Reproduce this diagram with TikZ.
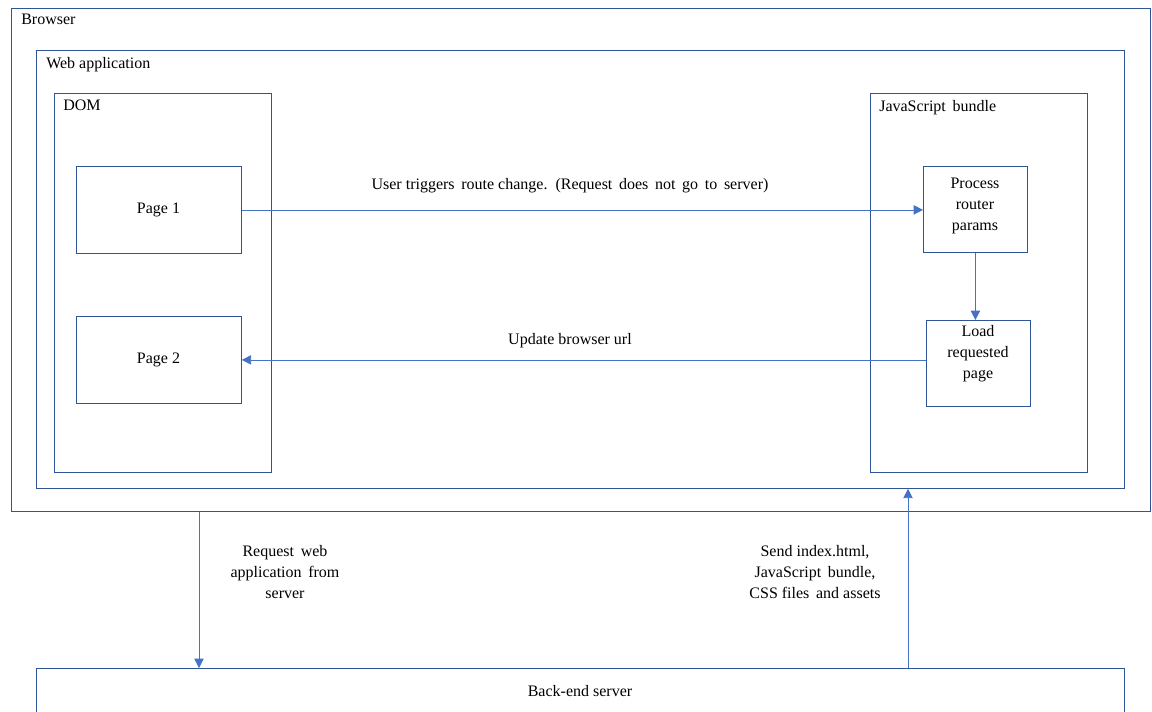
\documentclass[tikz,border=0pt]{standalone}
\usepackage{fontspec}
\setmainfont{Liberation Serif}
\usetikzlibrary{arrows.meta}
\definecolor{boxblue}{HTML}{2F5597}
\definecolor{arrowblue}{HTML}{4472C4}
\begin{document}
\begin{tikzpicture}[x=0.75pt,y=-0.75pt,
  box/.style={draw=boxblue,line width=0.6pt,inner sep=0pt,anchor=north west},
  conn/.style={draw=arrowblue,line width=0.6pt,-{Triangle[length=7pt,width=7pt]}},
  lbl/.style={font=\fontsize{12}{15.8}\selectfont,align=center,inner sep=0pt},
  ttl/.style={font=\fontsize{12}{15.8}\selectfont,anchor=north west,inner sep=0pt}]
\useasboundingbox (0,0) rectangle (1152,711);
\clip (0,0) rectangle (1152,711);
% containers
\node[box,minimum width=854.25pt,minimum height=377.25pt] (browser) at (11,8) {};
\node[ttl] (tbrowser) at (21,14) {Browser};
\node[box,minimum width=816pt,minimum height=328.5pt] (webapp) at (36,50) {};
\node[ttl] (twebapp) at (46,57) {Web application};
\node[box,minimum width=162.75pt,minimum height=284.25pt] (dom) at (54,93) {};
\node[ttl] (tdom) at (63,100) {DOM};
\node[box,minimum width=162.75pt,minimum height=284.25pt] (js) at (870,93) {};
\node[ttl] (tjs) at (879,100) {JavaScript\, bundle};
% inner boxes
\node[box,minimum width=123.75pt,minimum height=65.25pt] (page1) at (76,166) {};
\node[lbl] (p1t) at (158.5,210) {Page 1};
\node[box,minimum width=123.75pt,minimum height=65.25pt] (page2) at (76,316) {};
\node[lbl] (p2t) at (158.5,360) {Page 2};
\node[box,minimum width=78pt,minimum height=64.5pt] (proc) at (923,166) {};
\node[lbl] (proct) at (975,206) {Process\\router\\params};
\node[box,minimum width=78pt,minimum height=64.5pt] (load) at (926,320) {};
\node[lbl] (loadt) at (978,354) {Load\\requested\\page};
% back-end server
\node[box,minimum width=816pt,minimum height=60pt] (backend) at (36,668) {};
\node[lbl] (tbe) at (580,691) {Back-end server};
% helper x positions
\coordinate (xreq) at (199,0);
\coordinate (xsend) at (908,0);
% connectors
\draw[conn] (page1.east) -- (page1.east -| proc.west);
\node[lbl] (l1) at (570,186) {User triggers\, route change.\, (Request\, does\, not\, go\, to\, server)};
\draw[conn] (proc.south) -- (proc.south |- load.north);
\draw[conn] (load.west |- page2.east) -- (page2.east);
\node[lbl] (l2) at (570,341) {Update browser url};
\draw[conn] (browser.south -| xreq) -- (backend.north -| xreq);
\node[lbl] (l3) at (285,572) {Request\, web\\application\, from\\server};
\draw[conn] (backend.north -| xsend) -- (webapp.south -| xsend);
\node[lbl] (l4) at (815,572) {Send index.html,\\JavaScript\, bundle,\\CSS files\, and assets};
\end{tikzpicture}
\end{document}
